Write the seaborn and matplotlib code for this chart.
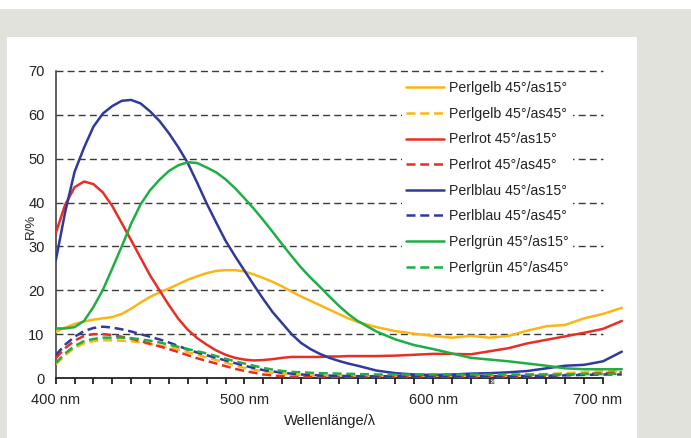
import numpy as np
import pandas as pd
import matplotlib
matplotlib.use("Agg")
import matplotlib.pyplot as plt
from matplotlib.patches import Rectangle
import seaborn as sns

# ---------------- data ----------------
wavelength = [400, 405, 410, 415, 420, 425, 430, 435, 440, 445, 450,
              455, 460, 465, 470, 475, 480, 485, 490, 495, 500,
              505, 510, 515, 520, 525, 530, 535, 540, 545, 550,
              555, 560, 570, 580, 590, 600, 610, 620, 630, 640,
              650, 660, 670, 680, 690, 700]

gelb_15 = [10.5, 11.5, 12.3, 12.9, 13.3, 13.6, 13.9, 14.6, 15.8, 17.2, 18.5,
           19.5, 20.4, 21.4, 22.4, 23.2, 23.9, 24.4, 24.6, 24.6, 24.3,
           23.6, 22.8, 21.9, 20.9, 19.7, 18.6, 17.6, 16.6, 15.6, 14.6,
           13.6, 12.8, 11.6, 10.7, 10.1, 9.6, 9.2, 9.6, 9.2, 9.6,
           10.8, 11.8, 12.1, 13.6, 14.6, 16.0]
gelb_45 = [3.1, 5.2, 6.9, 7.9, 8.4, 8.6, 8.6, 8.5, 8.4, 8.1, 7.8,
           7.4, 7.0, 6.5, 5.9, 5.3, 4.7, 4.1, 3.5, 2.9, 2.3,
           1.9, 1.5, 1.2, 1.0, 0.85, 0.7, 0.6, 0.5, 0.5, 0.5,
           0.5, 0.5, 0.5, 0.5, 0.5, 0.5, 0.5, 0.5, 0.5, 0.5,
           0.7, 0.9, 1.1, 1.3, 1.5, 1.6]
rot_15 = [33.0, 39.5, 43.5, 44.8, 44.2, 42.3, 39.2, 35.3, 31.4, 27.4, 23.4,
          20.0, 16.6, 13.5, 11.0, 9.1, 7.6, 6.3, 5.3, 4.6, 4.2,
          4.0, 4.1, 4.3, 4.6, 4.8, 4.8, 4.8, 4.8, 4.9, 4.9,
          5.0, 5.0, 5.0, 5.1, 5.3, 5.5, 5.5, 5.4, 6.1, 6.8,
          7.9, 8.7, 9.5, 10.3, 11.2, 13.0]
rot_45 = [4.5, 6.8, 8.5, 9.6, 10.0, 10.0, 9.8, 9.4, 9.0, 8.4, 7.8,
          7.2, 6.6, 5.9, 5.2, 4.5, 3.9, 3.3, 2.7, 2.1, 1.6,
          1.2, 0.8, 0.6, 0.4, 0.3, 0.2, 0.2, 0.2, 0.2, 0.2,
          0.2, 0.2, 0.2, 0.2, 0.2, 0.2, 0.2, 0.2, 0.2, 0.2,
          0.4, 0.5, 0.7, 0.9, 1.1, 1.3]
blau_15 = [26.7, 37.8, 47.0, 52.5, 57.3, 60.3, 62.0, 63.2, 63.4, 62.6, 60.8,
           58.6, 55.8, 52.6, 49.0, 44.5, 39.8, 35.5, 31.3, 27.8, 24.5,
           21.2, 18.0, 15.0, 12.5, 10.0, 8.0, 6.6, 5.5, 4.6, 3.9,
           3.3, 2.8, 1.7, 1.1, 0.8, 0.7, 0.8, 1.0, 1.1, 1.3,
           1.6, 2.2, 2.8, 3.0, 3.8, 6.0]
blau_45 = [5.2, 7.6, 9.4, 10.7, 11.4, 11.7, 11.5, 11.1, 10.6, 10.0, 9.4,
           8.8, 8.1, 7.3, 6.5, 5.8, 5.2, 4.6, 4.0, 3.4, 2.8,
           2.3, 1.8, 1.5, 1.2, 1.0, 0.8, 0.7, 0.6, 0.55, 0.5,
           0.45, 0.4, 0.4, 0.4, 0.4, 0.4, 0.4, 0.4, 0.4, 0.4,
           0.5, 0.5, 0.6, 0.7, 0.8, 0.8]
gruen_15 = [11.3, 11.3, 11.6, 13.0, 16.2, 20.1, 25.0, 30.0, 35.2, 39.6, 42.8,
            45.2, 47.2, 48.5, 49.2, 49.0, 48.0, 46.9, 45.3, 43.3, 41.0,
            38.6, 36.0, 33.3, 30.5, 27.8, 25.2, 22.9, 20.8, 18.6, 16.5,
            14.6, 13.0, 10.6, 8.8, 7.5, 6.6, 5.6, 4.6, 4.2, 3.8,
            3.3, 2.8, 2.2, 2.0, 2.0, 2.0]
gruen_45 = [3.4, 5.6, 7.3, 8.4, 8.9, 9.2, 9.2, 9.2, 9.1, 8.8, 8.5,
            8.1, 7.6, 7.1, 6.6, 6.1, 5.6, 5.0, 4.4, 3.8, 3.3,
            2.8, 2.3, 1.9, 1.6, 1.4, 1.3, 1.2, 1.1, 1.05, 1.0,
            0.95, 0.9, 0.8, 0.8, 0.8, 0.8, 0.8, 0.8, 0.8, 0.8,
            0.8, 0.8, 0.8, 0.9, 0.9, 1.0]

series_names = ["Perlgelb 45°/as15°", "Perlgelb 45°/as45°",
                "Perlrot 45°/as15°", "Perlrot 45°/as45°",
                "Perlblau 45°/as15°", "Perlblau 45°/as45°",
                "Perlgrün 45°/as15°", "Perlgrün 45°/as45°"]
series_values = [gelb_15, gelb_45, rot_15, rot_45,
                 blau_15, blau_45, gruen_15, gruen_45]

y_ticks = [0, 10, 20, 30, 40, 50, 60, 70]
x_major = [400, 500, 600, 700]
x_major_labels = ["400 nm", "500 nm", "600 nm", "700 nm"]

# ---------------- styles ----------------
colors = ["#fdb515", "#fdb515", "#e62f25", "#e62f25",
          "#2f3a9a", "#2f3a9a", "#1fae45", "#1fae45"]
solid = "-"
dashed = (0, (3.6, 1.9))
styles = [solid, dashed] * 4

sns.set_theme(style="white")
plt.rcParams["font.family"] = ["Liberation Sans", "DejaVu Sans"]

W, H = 691, 438
fig = plt.figure(figsize=(W / 100, H / 100), dpi=100)
fig.patch.set_facecolor("#e2e2dc")
fig.add_artist(Rectangle((0, 1 - 9 / H), 1, 9 / H, transform=fig.transFigure,
                         facecolor="white", edgecolor="none", zorder=0))
fig.add_artist(Rectangle((7 / W, 0), (637 - 7) / W, (H - 37) / H,
                         transform=fig.transFigure,
                         facecolor="white", edgecolor="none", zorder=0))

x0_px, px_per_nm = 55.7, 1.887
xmin, xmax = 400, 710
ymin, ymax = 0, 72
y0_px, px_per_unit = 378, 4.386
left = x0_px / W
right = (x0_px + (xmax - xmin) * px_per_nm) / W
bottom = (H - y0_px) / H
top = (H - (y0_px - ymax * px_per_unit)) / H
ax = fig.add_axes([left, bottom, right - left, top - bottom])
ax.set_facecolor("none")

df = pd.DataFrame({"wavelength": wavelength})
for name, vals in zip(series_names, series_values):
    df[name] = vals

for name, c, ls in zip(series_names, colors, styles):
    sns.lineplot(data=df, x="wavelength", y=name, ax=ax, color=c,
                 linestyle=ls, linewidth=1.8, label=name, zorder=3)

ax.hlines(y_ticks[1:], 400, 690, colors="#3a3a3a", linestyles=(0, (5, 3)),
          linewidth=1.0, zorder=1)

ax.set_xlim(xmin, xmax)
ax.set_ylim(ymin, ymax)

for s in ["top", "right"]:
    ax.spines[s].set_visible(False)
ax.spines["left"].set_bounds(0, 70)
ax.spines["bottom"].set_bounds(400, 690)
ax.spines["left"].set_color("#333333")
ax.spines["left"].set_linewidth(1.1)
ax.spines["bottom"].set_color("#222222")
ax.spines["bottom"].set_linewidth(1.3)

ax.set_yticks(y_ticks)
ax.set_yticklabels([str(v) for v in y_ticks])
ax.tick_params(axis="y", length=0, pad=8, labelsize=10.5, labelcolor="#222222")

ax.set_xticks(x_major)
ax.set_xticklabels(x_major_labels)
ax.set_xticks([v for v in range(410, 700, 10) if v % 100 != 0], minor=True)
ax.tick_params(axis="x", which="both", direction="out", length=4.5, width=1.3,
               color="#222222", bottom=True)
ax.tick_params(axis="x", which="major", pad=6, labelsize=10.5, labelcolor="#222222")
ax.xaxis.get_major_ticks()[3].tick1line.set_visible(False)
ax.get_xticklabels()[3].set_ha("right")

ax.set_xlabel("Wellenlänge/λ", fontsize=10.5, color="#222222")
ax.xaxis.set_label_coords((330 - x0_px) / (W * (right - left)), -0.115)
ax.set_ylabel("R/%", fontsize=9.5, color="#222222")
ax.yaxis.set_label_coords(-0.033, 0.48)

leg = ax.legend(loc="upper left",
                bbox_to_anchor=(402 / W, (H - 77) / H),
                bbox_transform=fig.transFigure,
                frameon=True, facecolor="white", edgecolor="none", framealpha=1,
                fontsize=10.2, handlelength=2.7, handletextpad=0.35,
                labelspacing=0.82, borderpad=0.3, borderaxespad=0)
leg.set_zorder(2)
for t in leg.get_texts():
    t.set_color("#222222")

fig.text(491 / W, 1 - 381 / H, "⊠", fontsize=6, color="#555555",
         family="DejaVu Sans", ha="center", va="center")

fig.savefig("out.png", dpi=100, facecolor=fig.get_facecolor())
